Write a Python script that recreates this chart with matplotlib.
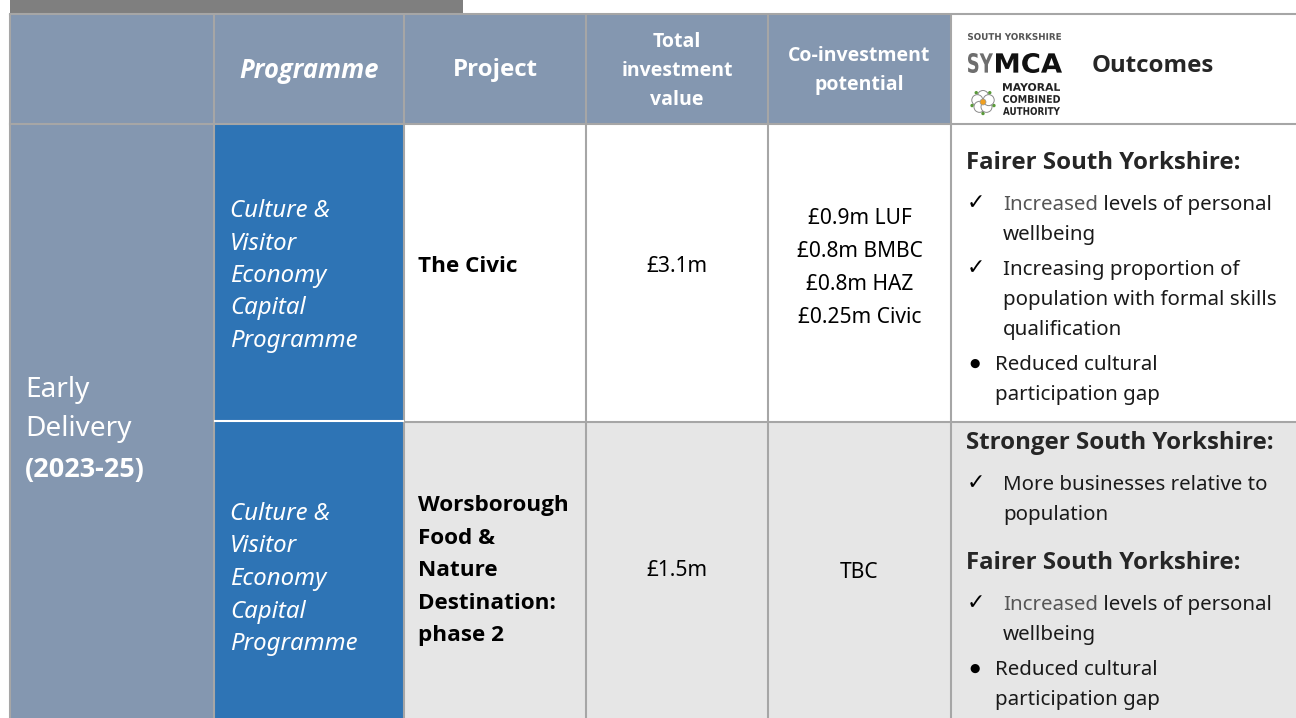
import math
import matplotlib
matplotlib.use("Agg")
import matplotlib.pyplot as plt
from matplotlib.patches import Rectangle, Circle, PathPatch
from matplotlib.textpath import TextPath
from matplotlib.font_manager import FontProperties
from matplotlib.transforms import Affine2D

plt.rcParams['font.family'] = ['Noto Sans', 'DejaVu Sans']
BOLD = ['Open Sans', 'DejaVu Sans']   # Noto Sans here has no bold face

# table layout (pixels)
col_edges = [10, 214, 404, 586, 768, 951, 1300]
row_edges = [14, 124, 422, 718]

# table content
headers = ["", "Programme", "Project", ["Total", "investment", "value"],
           ["Co-investment", "potential"], "Outcomes"]
stage = ["Early", "Delivery", "(2023-25)"]
programmes = [["Culture &", "Visitor", "Economy", "Capital", "Programme"],
              ["Culture &", "Visitor", "Economy", "Capital", "Programme"]]
projects = [["The Civic"],
            ["Worsborough", "Food &", "Nature", "Destination:", "phase 2"]]
totals = ["£3.1m", "£1.5m"]
coinvest = [["£0.9m LUF", "£0.8m BMBC", "£0.8m HAZ", "£0.25m Civic"], ["TBC"]]
outcomes = [
    [("Fairer South Yorkshire:", [
        ("check", ["Increased levels of personal", "wellbeing"]),
        ("check", ["Increasing proportion of", "population with formal skills",
                   "qualification"]),
        ("bullet", ["Reduced cultural", "participation gap"])])],
    [("Stronger South Yorkshire:", [
        ("check", ["More businesses relative to", "population"])]),
     ("Fairer South Yorkshire:", [
        ("check", ["Increased levels of personal", "wellbeing"]),
        ("bullet", ["Reduced cultural", "participation gap"])])],
]

HEAD_BG = "#8497B0"
PROG_BG = "#2E74B5"
GREY_BG = "#E6E6E6"
LINE = "#A6A6A6"
DARK = "#262626"

def pt(px):
    return px * 0.72

fig = plt.figure(figsize=(12.96, 7.18), dpi=100)
ax = fig.add_axes([0, 0, 1, 1])
ax.set_xlim(0, 1296)
ax.set_ylim(718, 0)
ax.axis("off")

# fit a text path into a box (used for the condensed logo lettering)
def box_text(s, x0, x1, ytop, ybot, color, weight="bold"):
    p = TextPath((0, 0), s, size=10,
                 prop=FontProperties(family="DejaVu Sans", weight=weight))
    ext = p.get_extents()
    sx = (x1 - x0) / ext.width
    sy = (ybot - ytop) / ext.height
    tr = Affine2D().translate(-ext.x0, -ext.y1).scale(sx, -sy).translate(x0, ytop)
    ax.add_patch(PathPatch(tr.transform_path(p), fc=color, ec="none"))

# top dark bar
ax.add_patch(Rectangle((10, 0), 453, 13, color="#7F7F7F", lw=0))

# backgrounds
ax.add_patch(Rectangle((10, 14), 941, 110, color=HEAD_BG, lw=0))
ax.add_patch(Rectangle((10, 124), 204, 594, color=HEAD_BG, lw=0))
ax.add_patch(Rectangle((214, 124), 190, 594, color=PROG_BG, lw=0))
ax.add_patch(Rectangle((404, 422), 900, 296, color=GREY_BG, lw=0))

# grid lines
for x in col_edges[:-1]:
    ax.plot([x, x], [14, 718], color=LINE, lw=1.5, solid_capstyle="butt")
ax.plot([10, 1296], [14, 14], color=LINE, lw=1.5)
ax.plot([10, 1296], [124, 124], color=LINE, lw=1.5)
ax.plot([404, 1296], [422, 422], color=LINE, lw=1.5)
ax.plot([215, 403], [421, 421], color="white", lw=1.5)

# header text
centers = [(col_edges[i] + col_edges[i + 1]) / 2 for i in range(6)]
ax.text(centers[1], 70, headers[1], color="white", fontsize=pt(25.5),
        fontweight="bold", fontstyle="italic", ha="center", va="center",
        family=BOLD)
ax.text(centers[2], 70, headers[2], color="white", fontsize=pt(24),
        fontweight="bold", ha="center", va="center", family=BOLD)
for i, line in enumerate(headers[3]):
    ax.text(centers[3], 42 + 29 * i, line, color="white", fontsize=pt(19.5),
            fontweight="bold", ha="center", va="center", family=BOLD)
for i, line in enumerate(headers[4]):
    ax.text(centers[4], 56 + 29 * i, line, color="white", fontsize=pt(19.5),
            fontweight="bold", ha="center", va="center", family=BOLD)
ax.text(1092, 66, headers[5], color=DARK, fontsize=pt(24),
        fontweight="bold", ha="left", va="center", family=BOLD)

# logo
box_text("SOUTH YORKSHIRE", 968, 1061, 33, 40, "#555555")
box_text("SY", 968, 993, 53, 73, "#6E6E6E")
box_text("MCA", 996, 1062, 53, 73, "#111111")
for i, line in enumerate(["MAYORAL", "COMBINED", "AUTHORITY"]):
    box_text(line, 1003, 1060, 83 + 12 * i, 91 + 12 * i, "#222222")
for k in range(5):
    a = math.radians(90 + 72 * k)
    ax.add_patch(Circle((983 + 6 * math.cos(a), 102 - 6 * math.sin(a)), 5.5,
                        fc="white", ec="#8A8A8A", lw=0.7))
    b = math.radians(126 + 72 * k)
    ax.add_patch(Circle((983 + 11.5 * math.cos(b), 102 - 11.5 * math.sin(b)),
                        1.7, fc="#5A9A3A", ec="none"))
ax.add_patch(Circle((983, 102), 3, fc="#F0A020", ec="#999999", lw=0.5))

# stage column text
ax.text(25, 390, stage[0], color="white", fontsize=pt(28), va="center")
ax.text(25, 429, stage[1], color="white", fontsize=pt(28), va="center")
ax.text(25, 470, stage[2], color="white", fontsize=pt(27), fontweight="bold",
        va="center", family=BOLD)

# body rows
row_mid = [267, 571]
prog_top = [211, 514]
for r_i in range(2):
    for i, line in enumerate(programmes[r_i]):
        ax.text(230, prog_top[r_i] + 32.5 * i, line, color="white",
                fontsize=pt(24), fontstyle="italic", va="center")
    n = len(projects[r_i])
    y0 = row_mid[r_i] - 32.5 * (n - 1) / 2
    for i, line in enumerate(projects[r_i]):
        ax.text(418, y0 + 32.5 * i, line, color="black", fontsize=pt(22.5),
                fontweight="bold", va="center", family=BOLD)
    ax.text(centers[3], row_mid[r_i], totals[r_i], color="black",
            fontsize=pt(21), ha="center", va="center")
    n = len(coinvest[r_i])
    y0 = row_mid[r_i] + 1 - 33 * (n - 1) / 2
    for i, line in enumerate(coinvest[r_i]):
        ax.text(centers[4], y0 + 33 * i, line, color="black",
                fontsize=pt(21), ha="center", va="center")

# outcomes column
fig.canvas.draw()
renderer = fig.canvas.get_renderer()
out_start = [163, 443]
for r_i in range(2):
    y = out_start[r_i]
    for g_i, (head, items) in enumerate(outcomes[r_i]):
        if g_i > 0:
            y += 48
        ax.text(966, y, head, color=DARK, fontsize=pt(24), fontweight="bold",
                va="center", family=BOLD)
        y += 42
        for it_i, (kind, lines) in enumerate(items):
            if it_i > 0:
                y += 35
            if kind == "check":
                ax.text(976, y - 2, "\u2713", color="black", fontsize=pt(22),
                        ha="center", va="center", family=["DejaVu Sans"])
                tx = 1003
            else:
                ax.text(975, y - 2, "\u25CF", color="black", fontsize=pt(12),
                        ha="center", va="center", family=["DejaVu Sans"])
                tx = 995
            for l_i, line in enumerate(lines):
                if l_i > 0:
                    y += 30
                if line.startswith("Increased "):
                    t = ax.text(tx, y, "Increased", color="#555555",
                                fontsize=pt(20.5), va="center")
                    w = t.get_window_extent(renderer).width
                    ax.text(tx + w, y, line[len("Increased"):], color="#1A1A1A",
                            fontsize=pt(20.5), va="center")
                else:
                    ax.text(tx, y, line, color="#1A1A1A", fontsize=pt(20.5),
                            va="center")

fig.savefig("out.png", dpi=100)
